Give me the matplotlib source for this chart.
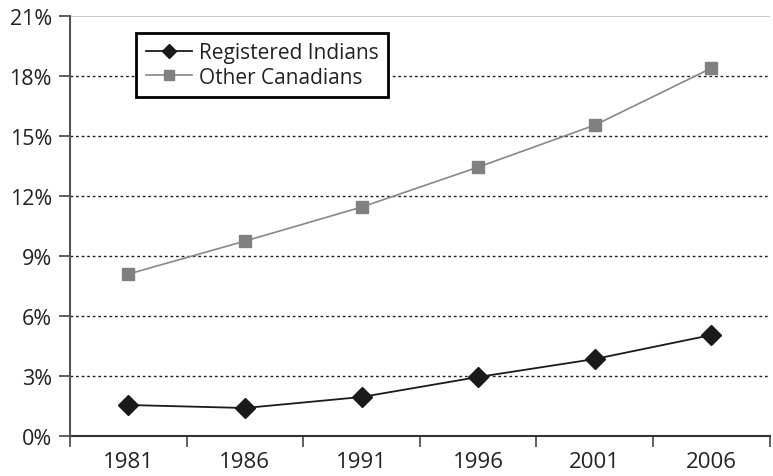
import matplotlib
matplotlib.use("Agg")
import matplotlib.pyplot as plt
from matplotlib.ticker import FixedLocator

plt.rcParams['font.family'] = ['Open Sans', 'DejaVu Sans']

years = ['1981', '1986', '1991', '1996', '2001', '2006']
registered_indians = [1.55, 1.4, 1.95, 2.95, 3.85, 5.05]
other_canadians = [8.1, 9.75, 11.45, 13.45, 15.55, 18.4]
y_ticks = [0, 3, 6, 9, 12, 15, 18, 21]

fig = plt.figure(figsize=(7.73, 4.77), dpi=100)
ax = fig.add_axes([0.0906, 0.0839, 0.905, 0.880])

x = list(range(len(years)))

# dotted grid lines, plain grey line on top
for v in y_ticks[1:-1]:
    ax.axhline(v, color='#222222', linestyle=(0, (2, 2)), linewidth=1.0, zorder=1)
ax.axhline(21, color='#cccccc', linewidth=1.5, zorder=1)

ax.plot(x, registered_indians, color='#1a1a1a', linewidth=1.3, marker='D',
        markersize=10, markerfacecolor='#1a1a1a', markeredgecolor='#1a1a1a',
        label='Registered Indians', zorder=3)
ax.plot(x, other_canadians, color='#888888', linewidth=1.2, marker='s',
        markersize=9, markerfacecolor='#808080', markeredgecolor='#808080',
        label='Other Canadians', zorder=3)

ax.set_xlim(-0.5, len(years) - 0.5)
ax.set_ylim(0, 21)
ax.set_yticks(y_ticks)
ax.set_yticklabels([f'{v}%' for v in y_ticks])
ax.set_xticks(x)
ax.set_xticklabels(years)
ax.xaxis.set_minor_locator(FixedLocator([i + 0.5 for i in range(-1, len(years))]))

ax.tick_params(axis='x', which='major', length=0, pad=11, labelsize=16, colors='#222222')
ax.tick_params(axis='x', which='minor', length=8, direction='out', width=1.2, color='#444444')
ax.tick_params(axis='y', length=8, direction='out', width=1.2, color='#444444',
               labelsize=15.5, labelcolor='#222222', pad=5)

for s in ['top', 'right']:
    ax.spines[s].set_visible(False)
ax.spines['left'].set_color('#555555')
ax.spines['left'].set_linewidth(1.5)
ax.spines['bottom'].set_color('#333333')
ax.spines['bottom'].set_linewidth(1.5)
ax.spines['left'].set_zorder(4)

leg = ax.legend(loc='upper left', bbox_to_anchor=(0.095, 0.96), fontsize=15,
                frameon=True, fancybox=False, borderpad=0.45, labelspacing=0.15,
                handlelength=2.2, handletextpad=0.35, borderaxespad=0)
leg.get_frame().set_edgecolor('black')
leg.get_frame().set_linewidth(2)
leg.get_frame().set_alpha(1)
for t in leg.get_texts():
    t.set_color('#222222')
for h in leg.legend_handles:
    h.set_markersize(7)

fig.savefig('out.png', dpi=100)
